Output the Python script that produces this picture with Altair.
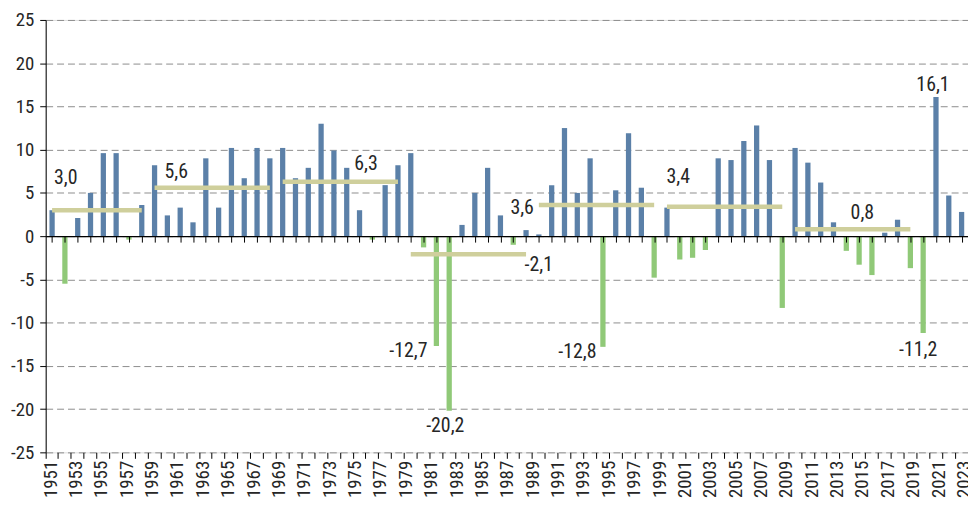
import altair as alt
import pandas as pd

# ---------------- data ----------------
# 72 bars are drawn in the reference (one bar per category below)
years = [y for y in range(1951, 2024) if y != 1987]
values = [3.0, -5.5, 2.1, 5.0, 9.6, 9.6, -0.4, 3.6, 8.2, 2.4,
          3.3, 1.6, 9.0, 3.3, 10.2, 6.7, 10.2, 9.0, 10.2, 6.7,
          7.9, 13.0, 9.9, 7.9, 3.0, -0.4, 5.9, 8.2, 9.6, -1.3,
          -12.7, -20.2, 1.3, 5.0, 7.9, 2.4, -1.0, 0.7, 0.2, 5.9,
          12.5, 5.0, 9.0, -12.8, 5.3, 11.9, 5.6, -4.8, 3.3, -2.7,
          -2.5, -1.6, 9.0, 8.8, 11.0, 12.8, 8.8, -8.3, 10.2, 8.5,
          6.2, 1.6, -1.7, -3.3, -4.5, 0.4, 1.9, -3.7, -11.2, 16.1,
          4.7, 2.8]

avg_start = [1951, 1959, 1969, 1979, 1990, 2000, 2010]
avg_end = [1958, 1968, 1978, 1989, 1999, 2009, 2019]
avg_value = [3.0, 5.6, 6.3, -2.1, 3.6, 3.4, 0.8]
avg_label = ["3,0", "5,6", "6,3", "-2,1", "3,6", "3,4", "0,8"]

note_years = [1981, 1982, 1995, 2020, 2021]
note_text = ["-12,7", "-20,2", "-12,8", "-11,2", "16,1"]

tick_years = list(range(1951, 2024, 2))
y_ticks = [-25, -20, -15, -10, -5, 0, 5, 10, 15, 20, 25]

# ---------------- style ----------------
FONT = "Liberation Sans Narrow, Roboto Condensed, DejaVu Sans Condensed, sans-serif"
BLUE = "#5b80a8"
GREEN = "#90c978"
KHAKI = "#cfcf9c"
TEXT = "#262626"
W, H = 930, 436

bars_df = pd.DataFrame({"year": years, "value": values})
avg_df = pd.DataFrame({"start": avg_start, "end": avg_end, "value": avg_value, "label": avg_label})
note_df = pd.DataFrame({"year": note_years,
                        "value": [values[years.index(y)] for y in note_years],
                        "label": note_text})
tick_df = pd.DataFrame({"year": tick_years})


def xband(field, axis=None):
    return alt.X(field, scale=alt.Scale(domain=years, paddingInner=0, paddingOuter=0), axis=axis)


ys = alt.Scale(domain=[-25, 25], nice=False, zero=False)
y_axis = alt.Axis(values=y_ticks, labelExpr="'' + datum.value", grid=True,
                  gridDash=[7, 4], gridColor="#8d8d8d", gridWidth=1,
                  domainColor="black", domainWidth=1, tickColor="black",
                  tickSize=6, labelPadding=6, labelFont=FONT, labelFontSize=19,
                  labelColor=TEXT, title=None)
Y = alt.Y("value:Q", scale=ys, axis=y_axis, title=None)

bottom_ticks = alt.Axis(orient="bottom", bandPosition=0, labels=False,
                        ticks=True, tickColor="black", tickSize=6,
                        domain=False, grid=False, title=None)

zero_axis = alt.Axis(orient="bottom", offset=-H / 2, bandPosition=0, labels=False,
                     ticks=True, tickColor="black", tickSize=6, domain=True,
                     domainColor="black", domainWidth=1.2, grid=False,
                     title=None, zindex=1)

label_axis = alt.Axis(orient="bottom", values=tick_years, format="d", labelAngle=270,
                      labelOverlap=False, labelFlush=False, labelBound=False,
                      labelFont=FONT, labelFontSize=19, labelColor=TEXT,
                      ticks=False, tickSize=0, labelPadding=8, domain=False,
                      grid=False, title=None)

bars = alt.Chart(bars_df).mark_bar(width=5.3).encode(
    x=xband("year:O", bottom_ticks),
    y=Y,
    color=alt.condition("datum.value >= 0", alt.value(BLUE), alt.value(GREEN)),
)

zero_layer = alt.Chart(bars_df).mark_point(opacity=0).encode(
    x=xband("year:O", zero_axis),
    y=Y,
)

label_layer = alt.Chart(tick_df).mark_point(opacity=0).encode(
    x=alt.X("year:Q", scale=alt.Scale(domain=[1951, 2023], range=[4.5, 925.5],
                                      nice=False, zero=False), axis=label_axis),
)

avg_rules = alt.Chart(avg_df).mark_rule(color=KHAKI, strokeWidth=4.5, strokeCap="butt").encode(
    x=xband("start:O"),
    x2="end:O",
    y=Y,
)

layers = [bars, zero_layer, label_layer, avg_rules]

# average labels: (anchor field, align, dx, dy)
avg_style = {
    "3,0": ("start", "left", 2, -32),
    "5,6": ("start", "left", 10, -16),
    "6,3": ("end", "left", -44, -18),
    "-2,1": ("end", "left", -1.5, 11),
    "3,6": ("start", "right", -5, 3),
    "3,4": ("start", "left", -0.5, -30),
    "0,8": ("start", "left", 56, -16),
}
for lab in avg_label:
    anchor, align, dx, dy = avg_style[lab]
    layers.append(
        alt.Chart(avg_df).transform_filter(alt.datum.label == lab)
        .mark_text(font=FONT, fontSize=20, color=TEXT, align=align,
                   baseline="middle", dx=dx, dy=dy)
        .encode(x=xband(f"{anchor}:O"), y=Y, text="label:N")
    )

note_style = {
    "-12,7": ("right", -9, 5),
    "-20,2": ("center", -4, 15),
    "-12,8": ("right", -6.5, 5),
    "-11,2": ("center", -5, 17),
    "16,1": ("center", -3, -12),
}
for lab in note_text:
    align, dx, dy = note_style[lab]
    layers.append(
        alt.Chart(note_df).transform_filter(alt.datum.label == lab)
        .mark_text(font=FONT, fontSize=20, color=TEXT, align=align,
                   baseline="middle", dx=dx, dy=dy)
        .encode(x=xband("year:O"), y=Y, text="label:N")
    )

chart = alt.layer(*layers).resolve_scale(x="independent").properties(
    width=W, height=H,
    autosize=alt.AutoSizeParams(type="none"),
    padding={"left": 38, "top": 10, "right": 0, "bottom": 47},
).configure_view(stroke=None).configure(background="white")

chart.save("out.html", embed_options={"renderer": "svg", "actions": False})
